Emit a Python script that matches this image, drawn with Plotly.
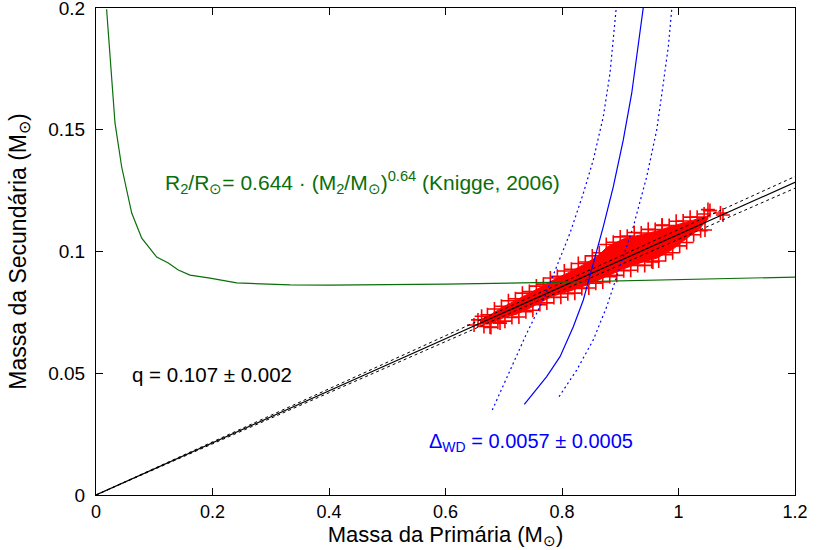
import plotly.graph_objects as go

# ---- data ----
q_values = [0.105, 0.107, 0.109]          # q - err, q, q + err
q_x = [0.0, 1.2]

knigge_x = [0.0182, 0.0297, 0.0326, 0.0441, 0.0613, 0.0785, 0.1042, 0.1241, 0.1413,
            0.1614, 0.1957, 0.2415, 0.2867, 0.333, 0.4, 0.6, 0.8, 1.0, 1.2]
knigge_y = [0.1995, 0.1622, 0.1528, 0.1347, 0.1158, 0.1055, 0.0977, 0.0953, 0.0924,
            0.0903, 0.0891, 0.0871, 0.0867, 0.0863, 0.0862, 0.0866, 0.0874, 0.0885, 0.0895]

wd_x = [0.7353, 0.7737, 0.7966, 0.8194, 0.8366, 0.8537, 0.8709, 0.8881, 0.9052, 0.9197, 0.9310, 0.9400]
wd_y = [0.0372, 0.0486, 0.0568, 0.0691, 0.0801, 0.0952, 0.1102, 0.1266, 0.1458, 0.1650, 0.1841, 0.2010]
wd_lo_x = [0.6803, 0.7107, 0.7394, 0.7679, 0.7909, 0.8137, 0.8366, 0.8537, 0.8709, 0.8824, 0.8935]
wd_lo_y = [0.0349, 0.0513, 0.0664, 0.0801, 0.0938, 0.1075, 0.1239, 0.1376, 0.1554, 0.1732, 0.2010]
wd_hi_x = [0.7949, 0.8252, 0.8537, 0.8767, 0.8996, 0.9224, 0.9454, 0.9626, 0.9739, 0.9825, 0.9890]
wd_hi_y = [0.0404, 0.0513, 0.0637, 0.0773, 0.0938, 0.1102, 0.1307, 0.1499, 0.1691, 0.1841, 0.2010]

# dense core of the Monte-Carlo cloud (outline)
core_x = [0.6592, 0.6764, 0.6987, 0.7227, 0.7451, 0.7674, 0.7914, 0.8137, 0.8361, 0.8601,
          0.8773, 0.9047, 0.9339, 0.9631, 0.9906, 1.0197, 1.0369, 1.0506,
          1.0506, 1.0369, 1.0197, 0.9906, 0.9631, 0.9339, 0.9047, 0.8773, 0.8481, 0.8137,
          0.7845, 0.7674, 0.7451, 0.7227, 0.6987, 0.6764, 0.6592]
core_y = [0.0719, 0.0739, 0.0772, 0.0801, 0.0830, 0.0858, 0.0891, 0.0916, 0.0945, 0.0978,
          0.1018, 0.1051, 0.1068, 0.1084, 0.1105, 0.1125, 0.1138, 0.1146,
          0.1133, 0.1097, 0.1064, 0.1010, 0.0973, 0.0953, 0.0928, 0.0899, 0.0867, 0.0838,
          0.0817, 0.0797, 0.0768, 0.0743, 0.0727, 0.0702, 0.0702]

# individual solutions around the edges of the cloud
mc_x = [0.662, 0.672, 0.684, 0.696, 0.708, 0.720, 0.732, 0.744, 0.756, 0.768, 0.780, 0.792,
        0.804, 0.816, 0.828, 0.840, 0.852, 0.864, 0.876, 0.888, 0.900, 0.912, 0.924, 0.936,
        0.948, 0.960, 0.972, 0.984, 0.996, 1.008, 1.020, 1.032, 1.044,
        1.054, 1.072, 0.9717, 1.0506, 1.0764, 1.0455, 0.956,
        0.666, 0.678, 0.690, 0.702, 0.714, 0.726, 0.738, 0.750, 0.762, 0.774, 0.786, 0.798,
        0.810, 0.822, 0.834, 0.846, 0.858, 0.870, 0.882, 0.894, 0.906, 0.918, 0.930, 0.942,
        0.954, 0.966, 0.978, 0.990, 1.002, 1.014, 1.026, 1.038,
        0.649, 0.6558, 0.6764, 0.6936]
mc_y = [0.0734, 0.0740, 0.0764, 0.0775, 0.0798, 0.0806, 0.0829, 0.0836, 0.0858, 0.0866,
        0.0891, 0.0898, 0.0920, 0.0927, 0.0951, 0.0957, 0.0982, 0.0995, 0.1029, 0.1038,
        0.1060, 0.1063, 0.1078, 0.1076, 0.1091, 0.1090, 0.1107, 0.1107, 0.1124, 0.1125,
        0.1141, 0.1141, 0.1154,
        0.1168, 0.1158, 0.1109, 0.1172, 0.1150, 0.1088, 0.0957,
        0.0692, 0.0688, 0.0709, 0.0714, 0.0729, 0.0731, 0.0753, 0.0759, 0.0782, 0.0789,
        0.0811, 0.0812, 0.0827, 0.0829, 0.0848, 0.0850, 0.0870, 0.0875, 0.0897, 0.0902,
        0.0921, 0.0923, 0.0943, 0.0943, 0.0959, 0.0961, 0.0987, 0.0995, 0.1023, 0.1037,
        0.1069, 0.1085,
        0.0698, 0.0719, 0.0690, 0.0706]

x_ticks = [0, 0.2, 0.4, 0.6, 0.8, 1.0, 1.2]
x_ticklabels = ["0", "0.2", "0.4", "0.6", "0.8", "1", "1.2"]
y_ticks = [0, 0.05, 0.1, 0.15, 0.2]
y_ticklabels = ["0", "0.05", "0.1", "0.15", "0.2"]

RED = "#ff0000"
GREEN = "#0a6e0a"
BLUE = "#0000ff"
FONT = "Liberation Sans"

fig = go.Figure()

fig.add_trace(go.Scatter(x=core_x, y=core_y, mode="lines", fill="toself",
                         fillcolor=RED, line=dict(color=RED, width=1), hoverinfo="skip"))
fig.add_trace(go.Scatter(x=mc_x, y=mc_y, mode="markers",
                         marker=dict(symbol="cross-thin-open", size=10, color=RED,
                                     line=dict(color=RED, width=1.6))))

# mass ratio lines
for i, q in enumerate(q_values):
    fig.add_trace(go.Scatter(x=q_x, y=[q * v for v in q_x], mode="lines",
                             line=dict(color="black", width=1.2 if i == 1 else 1,
                                       dash="solid" if i == 1 else "3px,3px")))

fig.add_trace(go.Scatter(x=knigge_x, y=knigge_y, mode="lines",
                         line=dict(color=GREEN, width=1.2)))

fig.add_trace(go.Scatter(x=wd_x, y=wd_y, mode="lines", line=dict(color=BLUE, width=1.2)))
fig.add_trace(go.Scatter(x=wd_lo_x, y=wd_lo_y, mode="lines",
                         line=dict(color=BLUE, width=1.2, dash="2px,3px")))
fig.add_trace(go.Scatter(x=wd_hi_x, y=wd_hi_y, mode="lines",
                         line=dict(color=BLUE, width=1.2, dash="2px,3px")))

fig.add_annotation(x=0.115, y=0.1285, xref="x", yref="y", xanchor="left", yanchor="middle",
                   showarrow=False,
                   text="R<sub>2</sub>/R<sub>⊙</sub>= 0.644 · (M<sub>2</sub>/M<sub>⊙</sub>)<sup>0.64</sup> (Knigge, 2006)",
                   font=dict(family=FONT, size=21, color=GREEN))
fig.add_annotation(x=0.0584, y=0.0493, xref="x", yref="y", xanchor="left", yanchor="middle",
                   showarrow=False, text="q = 0.107 ± 0.002",
                   font=dict(family=FONT, size=20.5, color="black"))
fig.add_annotation(x=0.568, y=0.0214, xref="x", yref="y", xanchor="left", yanchor="middle",
                   showarrow=False, text="Δ<sub>WD</sub> = 0.0057 ± 0.0005",
                   font=dict(family=FONT, size=20, color=BLUE))

fig.update_layout(
    width=819, height=550,
    margin=dict(l=96, r=24, t=8, b=55),
    plot_bgcolor="white", paper_bgcolor="white",
    showlegend=False,
    font=dict(family=FONT, color="black"),
    xaxis=dict(range=[0, 1.2], tickvals=x_ticks, ticktext=x_ticklabels,
               ticks="inside", ticklen=7, tickcolor="black", mirror="ticks",
               showline=True, linecolor="black", linewidth=1, showgrid=False, zeroline=False,
               ticklabeloverflow="allow", automargin="bottom",
               tickfont=dict(family=FONT, size=18),
               title=dict(text="Massa da Primária (M<sub>⊙</sub>)", standoff=0,
                          font=dict(family=FONT, size=22))),
    yaxis=dict(range=[0, 0.2], tickvals=y_ticks, ticktext=y_ticklabels,
               ticks="inside", ticklen=7, tickcolor="black", mirror="ticks",
               showline=True, linecolor="black", linewidth=1, showgrid=False, zeroline=False,
               ticklabelstandoff=6, ticklabeloverflow="allow", automargin="left",
               tickfont=dict(family=FONT, size=19),
               title=dict(text="Massa da Secundária (M<sub>⊙</sub>)", standoff=15,
                          font=dict(family=FONT, size=23))),
)

fig.write_html("out.html", config={"displayModeBar": False},
               post_script="document.body.style.margin='0px';document.body.style.overflow='hidden';")
